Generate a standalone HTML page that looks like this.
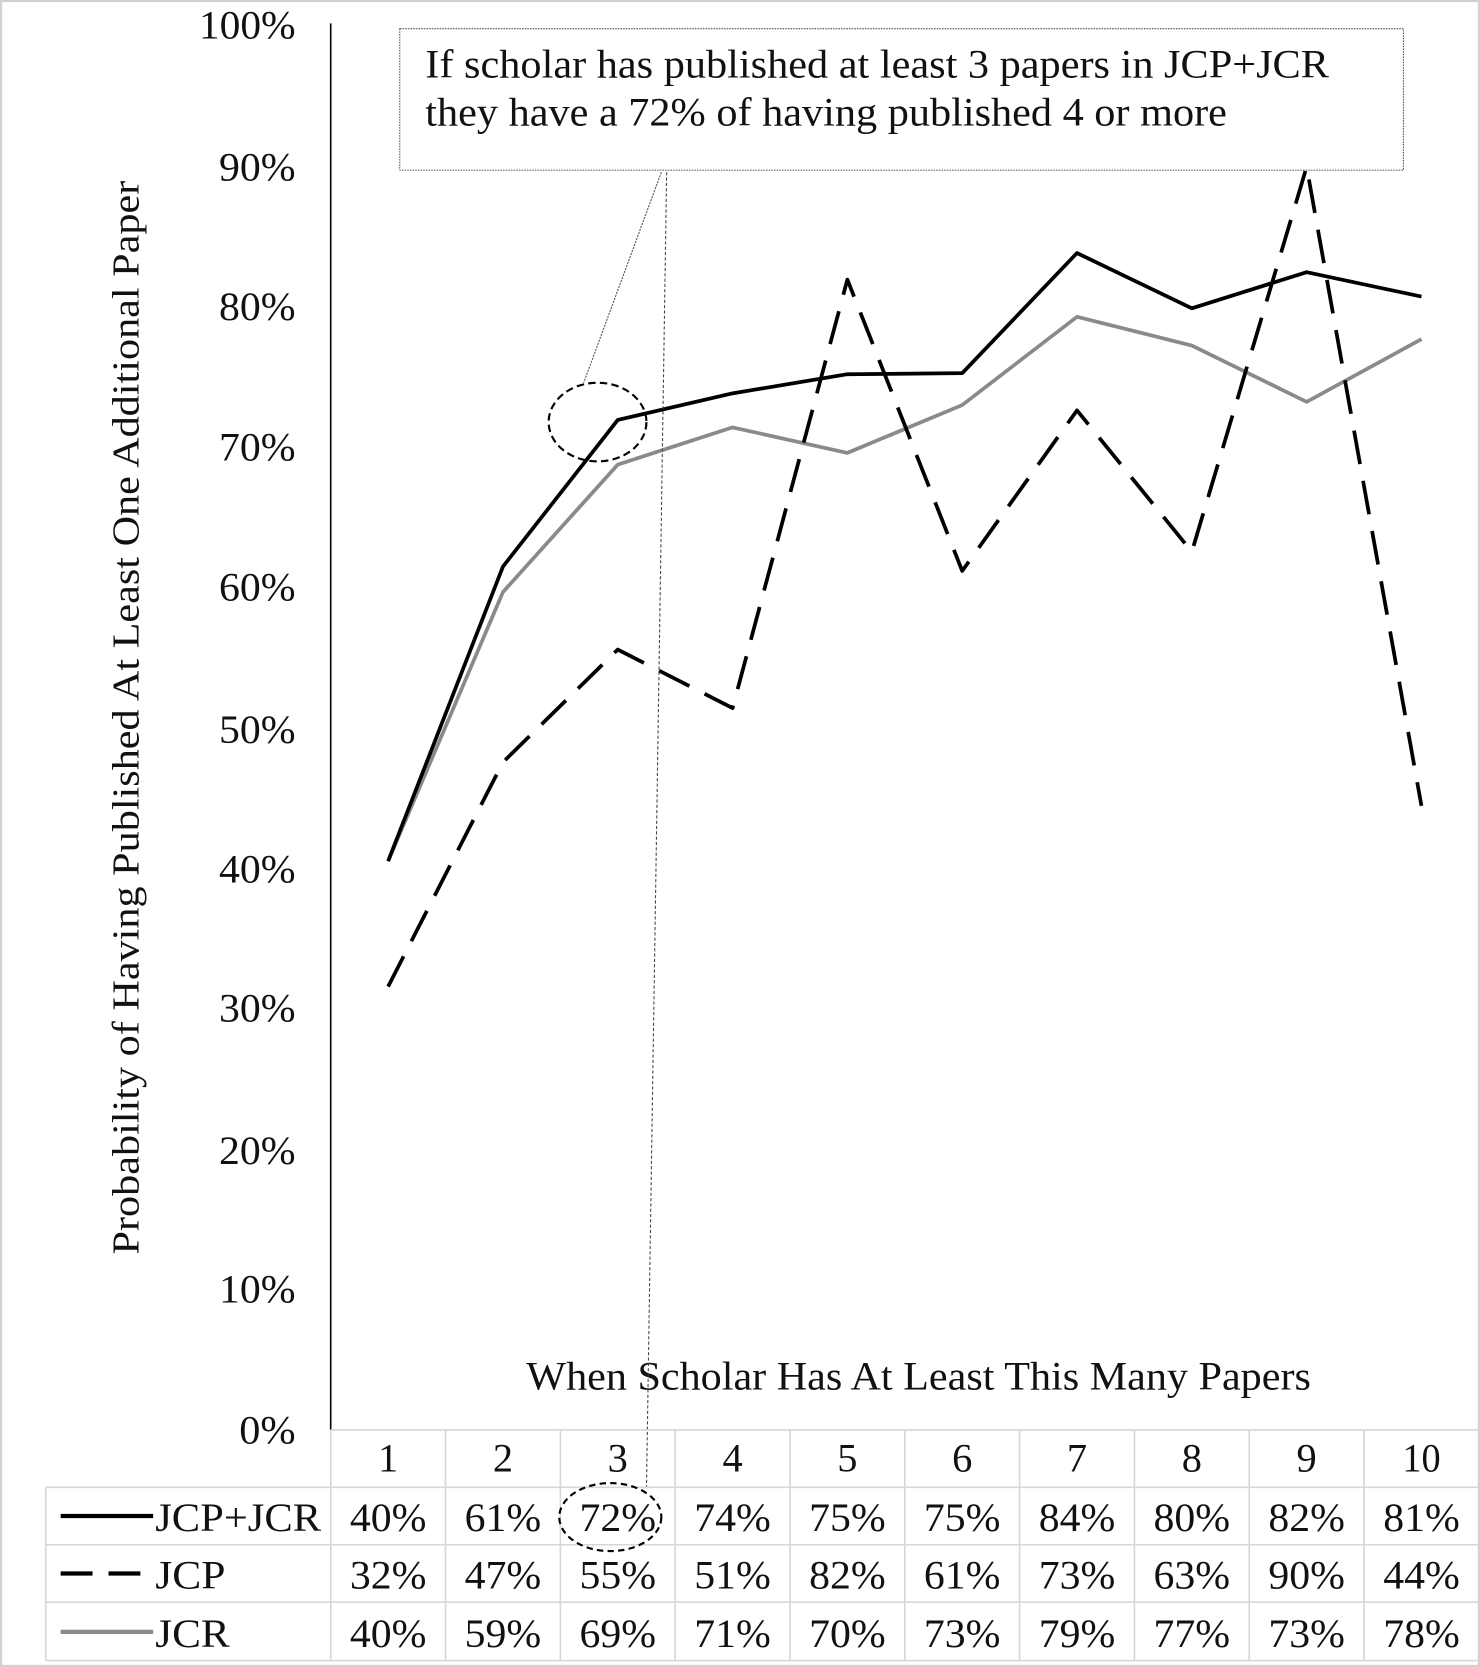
<!DOCTYPE html>
<html><head><meta charset="utf-8"><style>
html,body{margin:0;padding:0;background:#fff}
svg{display:block}
text{font-family:"Liberation Serif",serif;fill:#111}
</style></head><body>
<svg width="1480" height="1667" viewBox="0 0 1392 1568" xmlns="http://www.w3.org/2000/svg">
<rect x="1" y="1" width="1390" height="1566" fill="#fff" stroke="#d0d0d0" stroke-width="2"/>
<!-- y ticks -->
<g font-size="38" text-anchor="end" lengthAdjust="spacingAndGlyphs">
<text x="278" y="36" textLength="91" lengthAdjust="spacingAndGlyphs">100%</text>
<text x="278" y="170" textLength="72" lengthAdjust="spacingAndGlyphs">90%</text>
<text x="278" y="301" textLength="72" lengthAdjust="spacingAndGlyphs">80%</text>
<text x="278" y="433" textLength="72" lengthAdjust="spacingAndGlyphs">70%</text>
<text x="278" y="565" textLength="72" lengthAdjust="spacingAndGlyphs">60%</text>
<text x="278" y="699" textLength="72" lengthAdjust="spacingAndGlyphs">50%</text>
<text x="278" y="830" textLength="72" lengthAdjust="spacingAndGlyphs">40%</text>
<text x="278" y="961" textLength="72" lengthAdjust="spacingAndGlyphs">30%</text>
<text x="278" y="1095" textLength="72" lengthAdjust="spacingAndGlyphs">20%</text>
<text x="278" y="1225" textLength="72" lengthAdjust="spacingAndGlyphs">10%</text>
<text x="278" y="1358" textLength="53" lengthAdjust="spacingAndGlyphs">0%</text>
</g>
<text font-size="36" text-anchor="middle" textLength="1010" lengthAdjust="spacingAndGlyphs" transform="translate(130,675) rotate(-90)">Probability of Having Published At Least One Additional Paper</text>
<line x1="311" y1="22" x2="311" y2="1345" stroke="#000" stroke-width="1.5"/>
<!-- annotation box -->
<rect x="376" y="27" width="944" height="133" fill="#fff" stroke="#555" stroke-width="1" stroke-dasharray="1.5 1"/>
<text x="400" y="73" font-size="38" textLength="850" lengthAdjust="spacingAndGlyphs">If scholar has published at least 3 papers in JCP+JCR</text>
<text x="400" y="118" font-size="38" textLength="754" lengthAdjust="spacingAndGlyphs">they have a 72% of having published 4 or more</text>
<text x="495" y="1307" font-size="38" textLength="738" lengthAdjust="spacingAndGlyphs">When Scholar Has At Least This Many Papers</text>
<!-- series -->
<polyline fill="none" stroke="#8a8a8a" stroke-width="3.5" stroke-linejoin="round" points="365,810 473,557 581,437 689,402 797,426 905,381 1013,298 1121,325 1229,378 1337,319"/>
<polyline fill="none" stroke="#000" stroke-width="3.5" stroke-linejoin="round" points="365,810 473,533 581,395 689,370 797,352 905,351 1013,238 1121,290 1229,256 1337,279"/>
<polyline fill="none" stroke="#000" stroke-width="3.5" stroke-dasharray="32 16" stroke-linejoin="round" points="365,928 473,717 581,611 689,666 797,263 905,537 1013,386 1121,519 1229,157 1337,758"/>
<!-- callouts -->
<line x1="622" y1="162" x2="549" y2="360" stroke="#555" stroke-width="1" stroke-dasharray="2 1"/>
<line x1="627" y1="162" x2="608" y2="1402" stroke="#444" stroke-width="1" stroke-dasharray="3 2"/>
<ellipse cx="562" cy="397" rx="46" ry="37" fill="none" stroke="#000" stroke-width="2" stroke-dasharray="7 4"/>
<!-- table -->
<g stroke="#d6d6d6" stroke-width="1.5" fill="none">
<line x1="311" y1="1345" x2="1391" y2="1345"/>
<line x1="43" y1="1399" x2="1391" y2="1399"/>
<line x1="43" y1="1453" x2="1391" y2="1453"/>
<line x1="43" y1="1507" x2="1391" y2="1507"/>
<line x1="43" y1="1562" x2="1391" y2="1562"/>
<line x1="43" y1="1399" x2="43" y2="1562"/>
<line x1="311" y1="1345" x2="311" y2="1562"/>
<line x1="419" y1="1345" x2="419" y2="1562"/>
<line x1="527" y1="1345" x2="527" y2="1562"/>
<line x1="635" y1="1345" x2="635" y2="1562"/>
<line x1="743" y1="1345" x2="743" y2="1562"/>
<line x1="851" y1="1345" x2="851" y2="1562"/>
<line x1="959" y1="1345" x2="959" y2="1562"/>
<line x1="1067" y1="1345" x2="1067" y2="1562"/>
<line x1="1175" y1="1345" x2="1175" y2="1562"/>
<line x1="1283" y1="1345" x2="1283" y2="1562"/>
</g>
<g font-size="38" text-anchor="middle">
<text x="365" y="1384">1</text><text x="473" y="1384">2</text><text x="581" y="1384">3</text><text x="689" y="1384">4</text><text x="797" y="1384">5</text><text x="905" y="1384">6</text><text x="1013" y="1384">7</text><text x="1121" y="1384">8</text><text x="1229" y="1384">9</text><text x="1337" y="1384" textLength="36" lengthAdjust="spacingAndGlyphs">10</text>
</g>
<g font-size="38" text-anchor="middle">
<text x="365" y="1440" textLength="72" lengthAdjust="spacingAndGlyphs">40%</text><text x="473" y="1440" textLength="72" lengthAdjust="spacingAndGlyphs">61%</text><text x="581" y="1440" textLength="72" lengthAdjust="spacingAndGlyphs">72%</text><text x="689" y="1440" textLength="72" lengthAdjust="spacingAndGlyphs">74%</text><text x="797" y="1440" textLength="72" lengthAdjust="spacingAndGlyphs">75%</text><text x="905" y="1440" textLength="72" lengthAdjust="spacingAndGlyphs">75%</text><text x="1013" y="1440" textLength="72" lengthAdjust="spacingAndGlyphs">84%</text><text x="1121" y="1440" textLength="72" lengthAdjust="spacingAndGlyphs">80%</text><text x="1229" y="1440" textLength="72" lengthAdjust="spacingAndGlyphs">82%</text><text x="1337" y="1440" textLength="72" lengthAdjust="spacingAndGlyphs">81%</text>
<text x="365" y="1494" textLength="72" lengthAdjust="spacingAndGlyphs">32%</text><text x="473" y="1494" textLength="72" lengthAdjust="spacingAndGlyphs">47%</text><text x="581" y="1494" textLength="72" lengthAdjust="spacingAndGlyphs">55%</text><text x="689" y="1494" textLength="72" lengthAdjust="spacingAndGlyphs">51%</text><text x="797" y="1494" textLength="72" lengthAdjust="spacingAndGlyphs">82%</text><text x="905" y="1494" textLength="72" lengthAdjust="spacingAndGlyphs">61%</text><text x="1013" y="1494" textLength="72" lengthAdjust="spacingAndGlyphs">73%</text><text x="1121" y="1494" textLength="72" lengthAdjust="spacingAndGlyphs">63%</text><text x="1229" y="1494" textLength="72" lengthAdjust="spacingAndGlyphs">90%</text><text x="1337" y="1494" textLength="72" lengthAdjust="spacingAndGlyphs">44%</text>
<text x="365" y="1549" textLength="72" lengthAdjust="spacingAndGlyphs">40%</text><text x="473" y="1549" textLength="72" lengthAdjust="spacingAndGlyphs">59%</text><text x="581" y="1549" textLength="72" lengthAdjust="spacingAndGlyphs">69%</text><text x="689" y="1549" textLength="72" lengthAdjust="spacingAndGlyphs">71%</text><text x="797" y="1549" textLength="72" lengthAdjust="spacingAndGlyphs">70%</text><text x="905" y="1549" textLength="72" lengthAdjust="spacingAndGlyphs">73%</text><text x="1013" y="1549" textLength="72" lengthAdjust="spacingAndGlyphs">79%</text><text x="1121" y="1549" textLength="72" lengthAdjust="spacingAndGlyphs">77%</text><text x="1229" y="1549" textLength="72" lengthAdjust="spacingAndGlyphs">73%</text><text x="1337" y="1549" textLength="72" lengthAdjust="spacingAndGlyphs">78%</text>
</g>
<ellipse cx="574" cy="1427" rx="48" ry="32" fill="none" stroke="#000" stroke-width="2" stroke-dasharray="6 4"/>
<!-- legend -->
<line x1="57" y1="1426" x2="144" y2="1426" stroke="#000" stroke-width="4"/>
<line x1="57" y1="1480" x2="144" y2="1480" stroke="#000" stroke-width="4" stroke-dasharray="30 15"/>
<line x1="57" y1="1535" x2="144" y2="1535" stroke="#8a8a8a" stroke-width="4"/>
<g font-size="38">
<text x="146" y="1440" textLength="156" lengthAdjust="spacingAndGlyphs">JCP+JCR</text>
<text x="146" y="1494" textLength="66" lengthAdjust="spacingAndGlyphs">JCP</text>
<text x="146" y="1549" textLength="70" lengthAdjust="spacingAndGlyphs">JCR</text>
</g>
</svg>
</body></html>
